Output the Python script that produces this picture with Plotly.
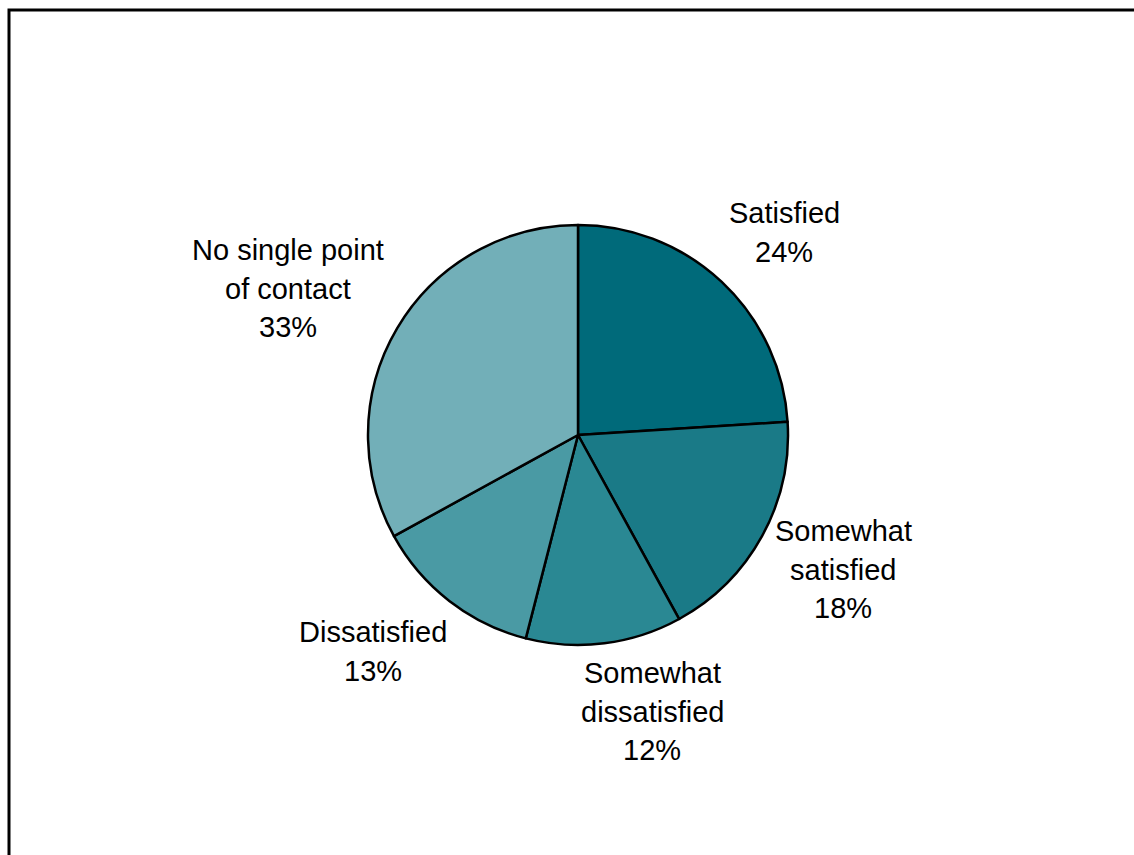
import plotly.graph_objects as go

# Survey result: satisfaction with point of contact
categories = ["Satisfied", "Somewhat satisfied", "Somewhat dissatisfied",
              "Dissatisfied", "No single point of contact"]
values = [24, 18, 12, 13, 33]
label_lines = [["Satisfied"], ["Somewhat", "satisfied"], ["Somewhat", "dissatisfied"],
               ["Dissatisfied"], ["No single point", "of contact"]]
colors = ["#006a7a", "#1a7a87", "#2a8893", "#4a9aa4", "#72afb8"]

W, H = 1134, 855
# label block centre x and first-line y (pixels) for each slice
label_pos = [(784, 213), (843, 531), (652, 673), (373, 632), (288, 250)]
LINE_STEP = 38.5

cx, cy, r = 578, 435, 210

fig = go.Figure(go.Pie(
    labels=categories,
    values=values,
    sort=False,
    direction="clockwise",
    rotation=0,
    textinfo="none",
    hoverinfo="label+percent",
    marker=dict(colors=colors, line=dict(color="black", width=2.5)),
    domain=dict(x=[(cx - r) / W, (cx + r) / W], y=[1 - (cy + r) / H, 1 - (cy - r) / H]),
    showlegend=False,
))

annotations = []
for lines, v, (lx, ly) in zip(label_lines, values, label_pos):
    for i, t in enumerate(lines + [f"{v}%"]):
        annotations.append(dict(
            x=lx / W, y=1 - (ly + i * LINE_STEP) / H,
            xref="paper", yref="paper", text=t, showarrow=False,
            xanchor="center", yanchor="middle",
            font=dict(family="Liberation Sans, Arial, sans-serif", size=29, color="black"),
        ))

fig.update_layout(
    width=W, height=H,
    margin=dict(l=0, r=0, t=0, b=0),
    paper_bgcolor="white",
    plot_bgcolor="white",
    annotations=annotations,
    shapes=[dict(type="rect", xref="paper", yref="paper",
                 x0=9 / W, x1=1.05, y0=-0.05, y1=1 - 10 / H,
                 line=dict(color="black", width=3))],
)

fig.write_html("out.html")
